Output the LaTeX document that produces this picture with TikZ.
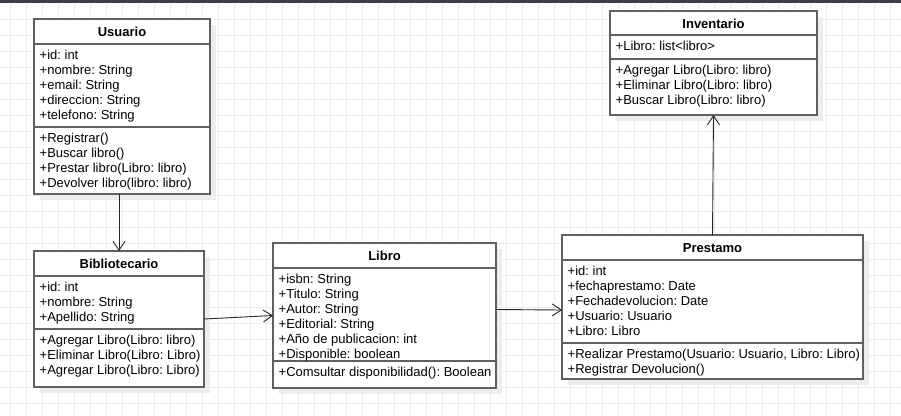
\documentclass[tikz,border=0pt]{standalone}
\usepackage{fontspec}
\setmainfont{Liberation Sans}
\usetikzlibrary{arrows.meta,shadows}

\definecolor{topbar}{HTML}{3A4045}
\definecolor{gridgray}{HTML}{EBEBEB}
\definecolor{boxgray}{HTML}{606060}
\newcommand{\umlfont}{\fontsize{13}{15}\selectfont\frenchspacing}

\tikzset{
  gridline/.style={draw=gridgray, line width=0.9pt},
  classbox/.style={draw=boxgray, line width=1.3pt, fill=white, anchor=north west,
    inner sep=0pt, outer sep=0pt,
    drop shadow={shadow xshift=6pt, shadow yshift=-6pt, fill=black!7, opacity=1}},
  sepline/.style={draw=boxgray, line width=1.3pt},
  classtitle/.style={anchor=base, inner sep=0pt, font=\umlfont\bfseries},
  member/.style={anchor=base west, inner sep=0pt, font=\umlfont},
  assoc/.style={draw=black!85, line width=0.9pt, -{Straight Barb[length=9pt,width=12pt]}}
}

\begin{document}
\begin{tikzpicture}[x=1pt, y=-1pt]
    \useasboundingbox (0,0) rectangle (901,415);
    % Background grid
    \fill[white] (0,0) rectangle (901,415);
    \foreach \gx in {10.5,26.5,...,901} \draw[gridline] (\gx,3) -- (\gx,415);
    \foreach \gy in {19,35,...,415} \draw[gridline] (0,\gy) -- (901,\gy);
    \fill[topbar] (0,0) rectangle (901,3.3);

    % Usuario
    \node[classbox, minimum width=176pt, minimum height=175pt] (usuario) at (34,19) {};
    \node[classtitle] (usuario-title) at (122,36) {Usuario};
    \draw[sepline] (usuario.west |- 0,44) -- (usuario.east |- 0,44);
    \draw[sepline] (usuario.west |- 0,127) -- (usuario.east |- 0,127);
    \foreach \m [count=\i] in {+id: int, +nombre: String, +email: String, +direccion: String, +telefono: String}
        \node[member] (usuario-a\i) at (39.5,44+15*\i) {\m};
    \foreach \m [count=\i] in {+Registrar(), +Buscar libro(), +Prestar libro(Libro: libro), +Devolver libro(libro: libro)}
        \node[member] (usuario-m\i) at (39.5,127+15*\i) {\m};

    % Bibliotecario
    \node[classbox, minimum width=170pt, minimum height=136pt] (bibliotecario) at (34,251) {};
    \node[classtitle] (bibliotecario-title) at (119,268) {Bibliotecario};
    \draw[sepline] (bibliotecario.west |- 0,276) -- (bibliotecario.east |- 0,276);
    \draw[sepline] (bibliotecario.west |- 0,329) -- (bibliotecario.east |- 0,329);
    \foreach \m [count=\i] in {+id: int, +nombre: String, +Apellido: String}
        \node[member] (bibliotecario-a\i) at (39.5,276+15*\i) {\m};
    \foreach \m [count=\i] in {+Agregar Libro(Libro: libro), +Eliminar Libro(Libro: Libro), +Agregar Libro(Libro: Libro)}
        \node[member] (bibliotecario-m\i) at (39.5,329+15*\i) {\m};

    % Libro
    \node[classbox, minimum width=223pt, minimum height=145pt] (libro) at (273,243) {};
    \node[classtitle] (libro-title) at (384.5,260) {Libro};
    \draw[sepline] (libro.west |- 0,268) -- (libro.east |- 0,268);
    \draw[sepline] (libro.west |- 0,361) -- (libro.east |- 0,361);
    \foreach \m [count=\i] in {+isbn: String, +Titulo: String, +Autor: String, +Editorial: String, +Año de publicacion: int, +Disponible: boolean}
        \node[member] (libro-a\i) at (278.5,268+15*\i) {\m};
    \node[member] (libro-m1) at (278.5,376) {+Comsultar disponibilidad(): Boolean};

    % Prestamo
    \node[classbox, minimum width=301pt, minimum height=144pt] (prestamo) at (562,235) {};
    \node[classtitle] (prestamo-title) at (712.5,252) {Prestamo};
    \draw[sepline] (prestamo.west |- 0,260) -- (prestamo.east |- 0,260);
    \draw[sepline] (prestamo.west |- 0,343) -- (prestamo.east |- 0,343);
    \foreach \m [count=\i] in {+id: int, +fechaprestamo: Date, +Fechadevolucion: Date, +Usuario: Usuario, +Libro: Libro}
        \node[member] (prestamo-a\i) at (567.5,260+15*\i) {\m};
    \foreach \m [count=\i] in {{+Realizar Prestamo(Usuario: Usuario, Libro: Libro)}, +Registrar Devolucion()}
        \node[member] (prestamo-m\i) at (567.5,343+15*\i) {\m};

    % Inventario
    \node[classbox, minimum width=207pt, minimum height=104pt] (inventario) at (610,11) {};
    \node[classtitle] (inventario-title) at (713.5,28) {Inventario};
    \draw[sepline] (inventario.west |- 0,35) -- (inventario.east |- 0,35);
    \draw[sepline] (inventario.west |- 0,59) -- (inventario.east |- 0,59);
    \node[member] (inventario-a1) at (615.5,50) {+Libro: list<libro>};
    \foreach \m [count=\i] in {+Agregar Libro(Libro: libro), +Eliminar Libro(Libro: libro), +Buscar Libro(Libro: libro)}
        \node[member] (inventario-m\i) at (615.5,59+15*\i) {\m};

    % Draw edges
    \draw[assoc] (usuario.south -| bibliotecario.north) -- (bibliotecario.north);
    \draw[assoc] (bibliotecario.east) -- (libro.west);
    \draw[assoc] ([yshift=6pt]libro.east) -- ([yshift=-3pt]prestamo.west);
    \draw[assoc] (prestamo.north) -- (inventario.south);
\end{tikzpicture}
\end{document}
